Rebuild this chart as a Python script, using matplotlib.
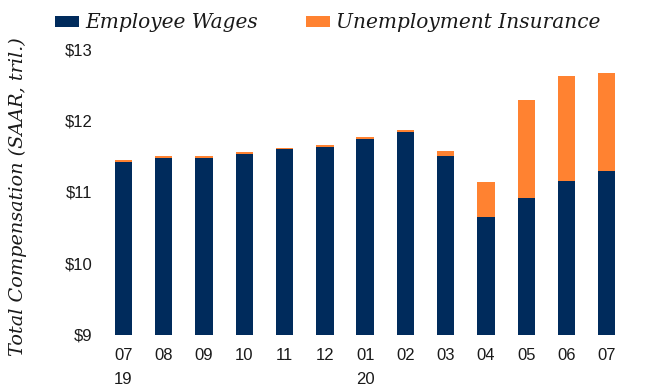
import matplotlib
matplotlib.use('Agg')
import matplotlib.pyplot as plt
import numpy as np

# months Jul 2019 - Jul 2020
labels = ['07\n19', '08', '09', '10', '11', '12', '01\n20', '02', '03', '04', '05', '06', '07']
wages = [11.42, 11.48, 11.48, 11.53, 11.60, 11.63, 11.74, 11.84, 11.50, 10.65, 10.91, 11.15, 11.29]
total = [11.45, 11.50, 11.50, 11.56, 11.62, 11.66, 11.77, 11.87, 11.57, 11.14, 12.29, 12.63, 12.67]
ui = [t - w for t, w in zip(total, wages)]

navy = '#002B5C'
orange = '#FF8231'
base = 9

fig = plt.figure(figsize=(6.52, 3.86), dpi=100)
ax = fig.add_axes([0.1523, 0.1334, 0.8155, 0.7943])

x = np.arange(len(labels))
b1 = ax.bar(x, np.array(wages) - base, bottom=base, width=0.43, color=navy, label='Employee Wages')
b2 = ax.bar(x, ui, bottom=wages, width=0.43, color=orange, label='Unemployment Insurance')

ax.set_xlim(-0.6, 12.6)
ax.set_ylim(9, 13.3)
ax.set_yticks([9, 10, 11, 12, 13])
ax.set_yticklabels(['$9', '$10', '$11', '$12', '$13'])
ax.set_xticks(x)
ax.set_xticklabels(labels, linespacing=1.7)

for s in ax.spines.values():
    s.set_visible(False)
ax.tick_params(axis='y', length=0, pad=5, labelsize=12, labelcolor='#1a1a1a')
ax.tick_params(axis='x', length=0, pad=10, labelsize=12, labelcolor='#1a1a1a')
for t in ax.get_xticklabels() + ax.get_yticklabels():
    t.set_fontfamily('Liberation Sans')

fig.text(18 / 652, 1 - 197 / 386, 'Total Compensation (SAAR, tril.)', rotation=90,
         ha='center', va='center', fontsize=13.9, fontstyle='italic', family='DejaVu Serif',
         color='#1a1a1a')

leg = ax.legend(handles=[b1, b2], loc='center left', ncol=2, frameon=False,
                bbox_to_anchor=(55 / 652, 1 - 23 / 386), bbox_transform=fig.transFigure,
                borderpad=0, borderaxespad=0, handlelength=1.2, handleheight=0.42,
                handletextpad=0.3, columnspacing=2.4,
                prop={'family': 'DejaVu Serif', 'style': 'italic', 'size': 14.5})
for t in leg.get_texts():
    t.set_color('#1a1a1a')

fig.savefig('out.png', dpi=100)
